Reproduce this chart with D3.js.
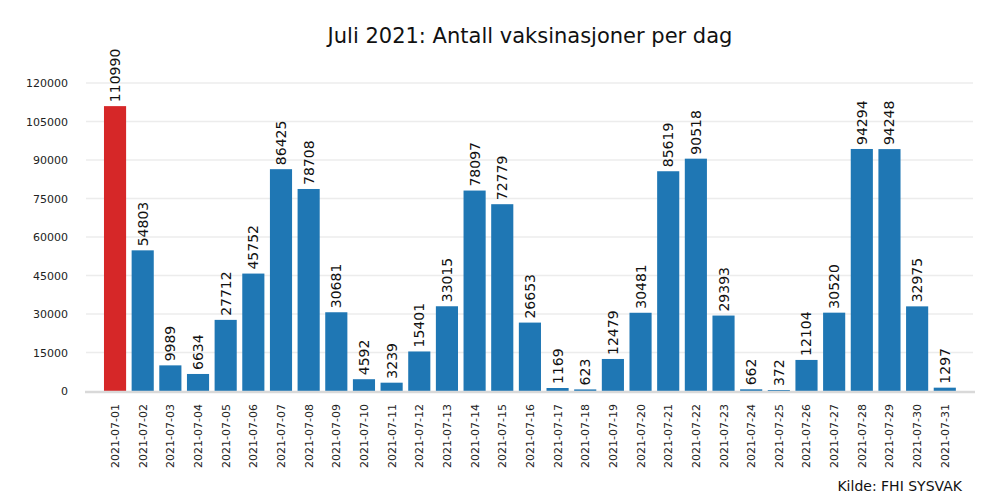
<!DOCTYPE html>
<html>
<head>
<meta charset="utf-8">
<script src="https://cdn.jsdelivr.net/npm/d3@7"></script>
<style>
	body { margin: 0; background: #fff; }
	svg { font-family: "DejaVu Sans", sans-serif; }
</style>
</head>
<body>
<div id="chart"></div>
<script>
// Datoer og antall vaksinasjoner, juli 2021
var dates = d3.range(1, 32).map(function(d) { return '2021-07-' + (d < 10 ? '0' + d : d); });
var doses = [110990, 54803, 9989, 6634, 27712, 45752, 86425, 78708, 30681, 4592,
	3239, 15401, 33015, 78097, 72779, 26653, 1169, 623, 12479, 30481,
	85619, 90518, 29393, 662, 372, 12104, 30520, 94294, 94248, 32975, 1297];
var yTicks = d3.range(0, 120001, 15000);

var W = 1000, H = 500;
var plot = {left: 86, right: 973, top: 60, bottom: 391};

var svg = d3.select('#chart').append('svg')
	.attr('width', W).attr('height', H);

// x som kontinuerlig skala over indeks, slik at stolpene står riktig
var x = d3.scaleLinear().domain([-1.05, 31.02]).range([plot.left, plot.right]);
var y = d3.scaleLinear().domain([0, 120000]).range([plot.bottom, 83]);
var bw = x(0.8) - x(0);

// Rutenett
svg.append('g').selectAll('line')
	.data(yTicks.slice(1))
	.enter().append('line')
	.attr('x1', plot.left).attr('x2', plot.right)
	.attr('y1', function(d) { return y(d); })
	.attr('y2', function(d) { return y(d); })
	.attr('stroke', '#ececec').attr('stroke-width', 1.3);

// y-akse etiketter
var yAxis = d3.axisLeft(y).tickValues(yTicks).tickSize(0).tickPadding(18)
	.tickFormat(d3.format('d'));
var ya = svg.append('g').attr('transform', 'translate(' + plot.left + ',0)').call(yAxis);
ya.select('.domain').remove();
ya.selectAll('text').attr('font-size', 11).attr('fill', '#222')
	.style('font-family', '"DejaVu Sans", sans-serif');

// Stolper
svg.append('g').selectAll('rect')
	.data(doses)
	.enter().append('rect')
	.attr('x', function(d, i) { return x(i) - bw / 2; })
	.attr('y', function(d) { return y(d); })
	.attr('width', bw)
	.attr('height', function(d) { return y(0) - y(d); })
	.attr('fill', function(d, i) { return i === 0 ? '#d62728' : '#1f77b4'; });

// Verdier over stolpene
svg.append('g').selectAll('text')
	.data(doses)
	.enter().append('text')
	.attr('transform', function(d, i) {
		return 'translate(' + (x(i) + 5) + ',' + (y(d) - 4) + ') rotate(-90)';
	})
	.attr('font-size', 14).attr('fill', '#111')
	.text(function(d) { return d; });

// x-akse linje
svg.append('line')
	.attr('x1', plot.left - 1).attr('x2', plot.right + 2)
	.attr('y1', plot.bottom + 1).attr('y2', plot.bottom + 1)
	.attr('stroke', '#d9d9d9').attr('stroke-width', 2.5);

// Datoetiketter
svg.append('g').selectAll('text')
	.data(dates)
	.enter().append('text')
	.attr('transform', function(d, i) {
		return 'translate(' + (x(i) + 4) + ',' + 404 + ') rotate(-90)';
	})
	.attr('text-anchor', 'end')
	.attr('font-size', 11).attr('fill', '#222')
	.text(function(d) { return d; });

// Tittel
svg.append('text')
	.attr('x', 530).attr('y', 43)
	.attr('text-anchor', 'middle')
	.attr('font-size', 21).attr('fill', '#111')
	.text('Juli 2021: Antall vaksinasjoner per dag');

// Kilde
svg.append('text')
	.attr('x', 962).attr('y', 491)
	.attr('text-anchor', 'end')
	.attr('font-size', 14).attr('fill', '#111')
	.text('Kilde: FHI SYSVAK');
</script>
</body>
</html>
